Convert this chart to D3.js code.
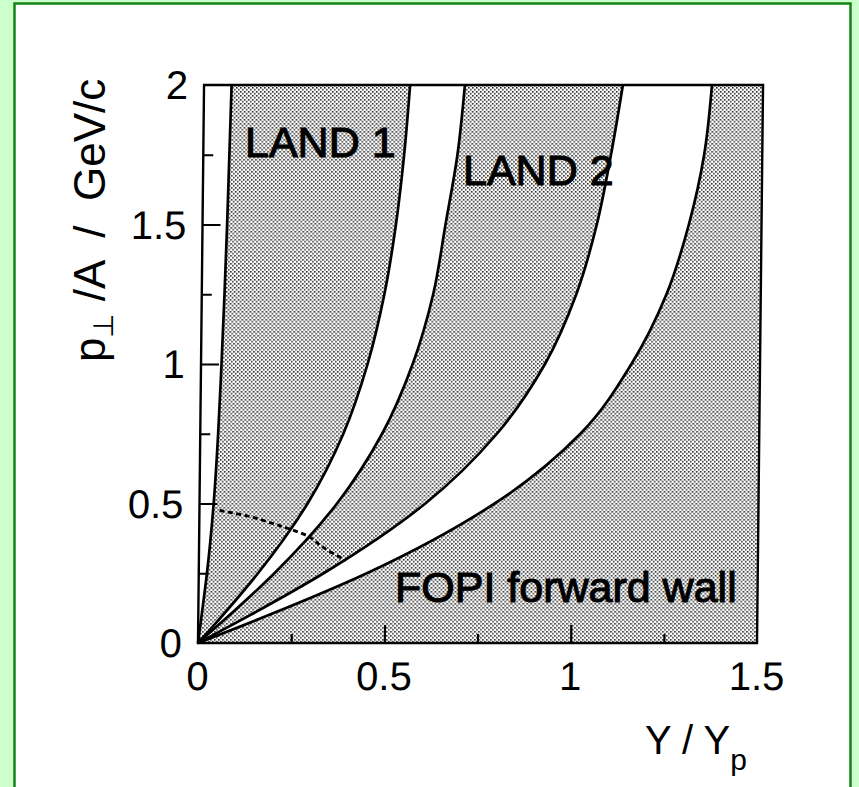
<!DOCTYPE html>
<html>
<head>
<meta charset="utf-8">
<script src="https://cdn.jsdelivr.net/npm/d3@7"></script>
<style>
  body { margin: 0; background: #ccffcc; }
  svg { display: block; font-family: "Liberation Sans", Arial, Helvetica, sans-serif; }
  .pre { white-space: pre; }
</style>
</head>
<body>
<script>
const width = 859;
const height = 787;

// p_perp/A values (GeV/c) where the boundaries were read
const pGrid = [0, 0.1, 0.25, 0.5, 0.75, 1, 1.25, 1.5, 1.75, 2];
// Y/Yp of each boundary at those p values, left to right
const edgeBeam  = [0, 0.009, 0.022, 0.038, 0.048, 0.055, 0.061, 0.066, 0.070, 0.074];
const land1Low  = [0, 0.066, 0.159, 0.290, 0.384, 0.447, 0.490, 0.519, 0.539, 0.553];
const land1High = [0, 0.084, 0.203, 0.369, 0.488, 0.568, 0.621, 0.652, 0.682, 0.700];
const land2Low  = [0, 0.139, 0.335, 0.606, 0.796, 0.923, 1.005, 1.058, 1.094, 1.124];
const land2High = [0, 0.189, 0.451, 0.792, 1.020, 1.155, 1.247, 1.305, 1.344, 1.363];

// dotted acceptance cut
const cutY = [0.054, 0.139, 0.198, 0.240, 0.296, 0.336, 0.395];
const cutP = [0.475, 0.452, 0.428, 0.410, 0.380, 0.340, 0.296];

const xTicks = [0, 0.5, 1, 1.5];
const xMinor = [0.25, 0.75, 1.25];
const yTicks = [0, 0.5, 1, 1.5, 2];
const yMinor = [0.25, 0.75, 1.25, 1.75];

const svg = d3.select("body").append("svg")
  .attr("width", width)
  .attr("height", height);

// green frame
svg.append("rect").attr("width", width).attr("height", height).attr("fill", "#ccffcc");
svg.append("rect")
  .attr("x", 14.5).attr("y", 3.5)
  .attr("width", 836).attr("height", 800)
  .attr("fill", "#ffffff")
  .attr("stroke", "#158215")
  .attr("stroke-width", 2.5);

const defs = svg.append("defs");
const pat = defs.append("pattern")
  .attr("id", "dots")
  .attr("patternUnits", "userSpaceOnUse")
  .attr("width", 4).attr("height", 4);
pat.append("rect").attr("width", 4).attr("height", 4).attr("fill", "#ffffff");
pat.append("rect").attr("x", 0).attr("y", 0).attr("width", 1.6).attr("height", 1.6).attr("fill", "#2a2a2a");
pat.append("rect").attr("x", 2).attr("y", 2).attr("width", 1.6).attr("height", 1.6).attr("fill", "#2a2a2a");

const pw = 559, ph = 558;
const x = d3.scaleLinear().domain([0, 1.5]).range([0, pw]);
const y = d3.scaleLinear().domain([0, 2]).range([0, -ph]);

// scanned figure is slightly sheared
const g = svg.append("g").attr("transform", "translate(198,643) skewX(-0.62)");

g.append("rect")
  .attr("x", 0).attr("y", -ph)
  .attr("width", pw).attr("height", ph)
  .attr("fill", "url(#dots)");

const band = (left, right) => d3.area()
  .y((d, i) => y(pGrid[i]))
  .x0((d, i) => x(left[i]))
  .x1((d, i) => x(right[i]))
  .curve(d3.curveMonotoneY)(pGrid);

const zeros = pGrid.map(() => 0);
[[zeros, edgeBeam], [land1Low, land1High], [land2Low, land2High]].forEach(b => {
  g.append("path").attr("d", band(b[0], b[1])).attr("fill", "#ffffff");
});

const edgeLine = d3.line()
  .x((d, i) => x(d))
  .y((d, i) => y(pGrid[i]))
  .curve(d3.curveMonotoneY);

[edgeBeam, land1Low, land1High, land2Low, land2High].forEach(e => {
  g.append("path").attr("d", edgeLine(e))
    .attr("fill", "none").attr("stroke", "#000").attr("stroke-width", 2.7);
});

g.append("path")
  .attr("d", d3.line().x((d, i) => x(d)).y((d, i) => y(cutP[i])).curve(d3.curveCatmullRom)(cutY))
  .attr("fill", "none").attr("stroke", "#000")
  .attr("stroke-width", 2.8).attr("stroke-dasharray", "5,3.5");

// axes: ticks point inward
g.append("g").call(d3.axisBottom(x).tickValues([0.5, 1]).tickSize(-18).tickFormat(""));
g.append("g").call(d3.axisBottom(x).tickValues(xMinor).tickSize(-9).tickFormat(""));
g.append("g").call(d3.axisLeft(y).tickValues([0.5, 1, 1.5]).tickSize(-18).tickFormat(""));
g.append("g").call(d3.axisLeft(y).tickValues(yMinor).tickSize(-10).tickFormat(""));
g.selectAll(".tick line").attr("stroke", "#000").attr("stroke-width", 2.2);
g.selectAll(".domain").remove();

g.append("rect")
  .attr("x", 0).attr("y", -ph)
  .attr("width", pw).attr("height", ph)
  .attr("fill", "none").attr("stroke", "#000").attr("stroke-width", 2.4);

g.selectAll(".xlab")
  .data(xTicks)
  .enter().append("text")
  .attr("x", d => x(d)).attr("y", 47)
  .attr("text-anchor", "middle")
  .attr("font-size", 40)
  .text(d => d);

g.selectAll(".ylab")
  .data(yTicks)
  .enter().append("text")
  .attr("x", -16).attr("y", d => y(d))
  .attr("dy", "0.36em")
  .attr("text-anchor", "end")
  .attr("font-size", 40)
  .text(d => d);

// annotations
const notes = [
  { t: "LAND 1", x: 245, y: 157 },
  { t: "LAND 2", x: 463, y: 185 },
  { t: "FOPI forward wall", x: 395, y: 602 }
];
svg.selectAll(".note")
  .data(notes)
  .enter().append("text")
  .attr("x", d => d.x).attr("y", d => d.y)
  .attr("font-size", 43)
  .attr("stroke", "#000").attr("stroke-width", 1.1)
  .text(d => d.t);

// axis titles
const xt = svg.append("text").attr("class", "pre").attr("x", 645).attr("y", 754).attr("font-size", 40);
xt.append("tspan").text("Y / Y");
xt.append("tspan").attr("dy", 16).attr("font-size", 30).text("p");

const yt = svg.append("text")
  .attr("class", "pre")
  .attr("transform", "translate(105,362) rotate(-90)")
  .attr("font-size", 44);
yt.append("tspan").text("p");
yt.append("tspan").attr("dy", 8).attr("font-size", 28).text("\u22A5");
yt.append("tspan").attr("dy", -8).text(" /A  /  GeV/c");
</script>
</body>
</html>
